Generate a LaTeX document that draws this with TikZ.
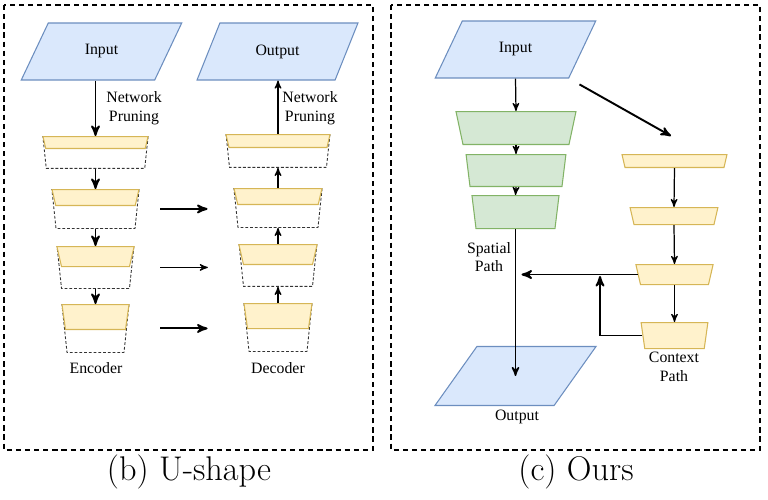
\documentclass[tikz,border=0pt]{standalone}
\usepackage{fontspec}
\newfontfamily\tms{Liberation Serif}
\usepackage{tikz}
\usetikzlibrary{arrows,shapes}
\definecolor{blufill}{HTML}{DAE8FC}
\definecolor{bluline}{HTML}{6C8EBF}
\definecolor{grnfill}{HTML}{D5E8D4}
\definecolor{grnline}{HTML}{82B366}
\definecolor{yelfill}{HTML}{FFF2CC}
\definecolor{yelline}{HTML}{D6B656}
\tikzstyle{arrow}=[->,line width=1.1pt,draw=black]
\tikzstyle{slim}=[->,line width=0.7pt,draw=black]
\tikzstyle{mid}=[->,line width=0.85pt,draw=black]
\tikzstyle{frame}=[draw=black,line width=0.9pt,dash pattern=on 3pt off 2.2pt]
\tikzstyle{io}=[trapezium,trapezium left angle=61.5,trapezium right angle=118.5,
              trapezium stretches=true,minimum width=3.22cm,minimum height=1.14cm,
              inner sep=1pt,fill=blufill,draw=bluline,line width=0.6pt]
\tikzstyle{blk}=[trapezium,shape border rotate=180,inner sep=0pt,
              text depth=0pt,anchor=north]
\tikzstyle{pruned}=[blk,draw=black!80,dash pattern=on 1.6pt off 1.1pt,line width=0.5pt,
              trapezium angle=84]
\tikzstyle{kept}=[blk,fill=yelfill,draw=yelline,line width=0.6pt,trapezium angle=77]
\tikzstyle{spatial}=[blk,fill=grnfill,draw=grnline,line width=0.6pt,trapezium angle=83]
\tikzstyle{lbl}=[align=center]

\begin{document}
\begin{tikzpicture}[x=0.02cm,y=-0.02cm,>=stealth',
                    font=\tms\fontsize{9}{10.5}\selectfont]

	\useasboundingbox (0,0) rectangle (768,500);
	\draw[frame] (4,5) rectangle (373,450);
	\draw[frame] (391,5) rectangle (760,450);
	\node[font=\normalfont\fontsize{19.5}{23}\selectfont] (capb) at (189,472) {(b) U-shape};
	\node[font=\normalfont\fontsize{19.5}{23}\selectfont] (capc) at (576,472) {(c) Ours};

	% (b) U-shape
	\node[io] (in) at (101.5,51.5) {Input};
	\node[io] (out) at (277.5,51.5) {Output};

	\node[pruned,text width=1.97cm,text height=0.64cm] (e1) at (95.5,136) {};
	\node[kept,text width=1.99cm,text height=0.24cm] (e1k) at (95.5,136) {};
	\node[pruned,text width=1.58cm,text height=0.78cm] (e2) at (95.5,189) {};
	\node[kept,text width=1.59cm,text height=0.32cm] (e2k) at (95.5,189) {};
	\node[pruned,text width=1.36cm,text height=0.84cm] (e3) at (95.5,246) {};
	\node[kept,text width=1.36cm,text height=0.40cm] (e3k) at (95.5,246) {};
	\node[pruned,text width=1.14cm,text height=0.96cm] (e4) at (95.5,304) {};
	\node[kept,text width=1.20cm,text height=0.50cm,trapezium angle=82] (e4k) at (95.5,304) {};

	\node[pruned,text width=1.94cm,text height=0.66cm] (d1) at (278,134) {};
	\node[kept,text width=1.96cm,text height=0.26cm] (d1k) at (278,134) {};
	\node[pruned,text width=1.60cm,text height=0.78cm] (d2) at (278,188) {};
	\node[kept,text width=1.61cm,text height=0.32cm] (d2k) at (278,188) {};
	\node[pruned,text width=1.38cm,text height=0.84cm] (d3) at (278,244) {};
	\node[kept,text width=1.38cm,text height=0.40cm] (d3k) at (278,244) {};
	\node[pruned,text width=1.16cm,text height=0.96cm] (d4) at (278,303) {};
	\node[kept,text width=1.22cm,text height=0.50cm,trapezium angle=82] (d4k) at (278,303) {};

	\node[lbl] (np1) at (134,108) {Network\\Pruning};
	\node[lbl] (np2) at (310,108) {Network\\Pruning};
	\node[lbl] (enc) at (96,368) {Encoder};
	\node[lbl] (dec) at (278,368) {Decoder};

	\draw[arrow] (in.south -| e1.north) -- (e1.north);
	\draw[arrow] (e1.south) -- (e2.north);
	\draw[arrow] (e2.south) -- (e3.north);
	\draw[arrow] (e3.south) -- (e4.north);
	\draw[slim] (d4.north) -- (d3.south);
	\draw[slim] (d3.north) -- (d2.south);
	\draw[slim] (d2.north) -- (d1.south);
	\draw[slim] (d1.north) -- (d1.north |- out.south);

	\draw[arrow,shorten <=0.46cm,shorten >=0.56cm] (e2.east) -- (e2.east -| d2.west);
	\draw[slim,shorten <=0.56cm,shorten >=0.66cm] (e3.east) -- (e3.east -| d3.west);
	\draw[arrow,shorten <=0.67cm,shorten >=0.77cm] (e4.east) -- (e4.east -| d4.west);

	% (c) Ours
	\node[io] (in2) at (515.5,49.5) {Input};
	\node[io,minimum height=1.18cm] (out2) at (515.5,376) {};
	\node[lbl] (outl) at (517,417) {Output};

	\node[spatial,text width=2.12cm,text height=0.66cm,trapezium angle=78] (g1) at (516,111) {};
	\node[spatial,text width=1.84cm,text height=0.64cm] (g2) at (516,154) {};
	\node[spatial,text width=1.58cm,text height=0.66cm] (g3) at (515.5,195) {};

	\node[kept,text width=1.98cm,text height=0.26cm] (c1) at (674.5,154) {};
	\node[kept,text width=1.60cm,text height=0.34cm] (c2) at (674,207) {};
	\node[kept,text width=1.36cm,text height=0.40cm] (c3) at (674.5,264) {};
	\node[kept,text width=1.19cm,text height=0.52cm,trapezium angle=82] (c4) at (674.5,322) {};

	\node[lbl] (sp) at (489,257) {Spatial\\Path};
	\node[lbl] (cp) at (674,367) {Context\\Path};
	\coordinate (c1in) at (671,136);
	\coordinate (jn) at (600,273);

	\draw[slim] (in2.south) -- (g1.north);
	\draw[slim] (g1.south) -- (g2.north);
	\draw[slim] (g2.south) -- (g3.north);
	\draw[mid] (g3.south) -- (out2.center);
	\draw[arrow,shorten <=0.24cm] (in2.bottom right corner) -- (c1in);
	\draw[slim] (c1.south) -- (c2.north);
	\draw[slim] (c2.south) -- (c3.north);
	\draw[slim] (c3.south) -- (c4.north);
	\draw[arrow,shorten >=0.12cm] (c3.west) -- (c3.west -| g3.south);
	\draw[arrow,shorten >=0.06cm] (c4.west) -| (jn);
\end{tikzpicture}
\end{document}
